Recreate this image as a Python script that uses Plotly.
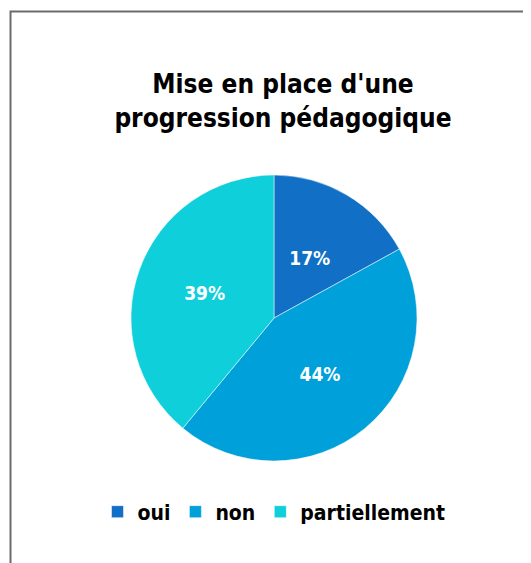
import plotly.graph_objects as go

# Données
categories = ["oui", "non", "partiellement"]
valeurs = [17, 44, 39]
couleurs = ["#1170C5", "#00A0DA", "#0ECFDA"]

titre = "Mise en place d'une<br>progression pédagogique"
police = "Liberation Sans Narrow, DejaVu Sans Condensed, Arial Narrow, sans-serif"

# la page ajoute une marge de 8 px autour de la figure
W, H = 523, 555
cx, cy, r = 266, 310, 143


def domaine(rayon):
    return {
        "x": [(cx - rayon) / W, (cx + rayon) / W],
        "y": [1 - (cy + rayon) / H, 1 - (cy - rayon) / H],
    }


figure = go.Figure()

# Secteurs + étiquettes des grands secteurs
figure.add_trace(
    go.Pie(
        labels=categories,
        values=valeurs,
        sort=False,
        direction="clockwise",
        rotation=0,
        marker={"colors": couleurs, "line": {"color": "white", "width": 0.5}},
        texttemplate=["", "%{percent:.0%}", "%{percent:.0%}"],
        textposition="inside",
        insidetextorientation="horizontal",
        textfont={"family": police, "size": 19, "color": "white", "weight": "bold"},
        hoverinfo="label+percent",
        domain=domaine(r),
    )
)

# Même camembert, plus petit et transparent : place l'étiquette du petit secteur
# à mi-rayon comme dans l'original
figure.add_trace(
    go.Pie(
        labels=categories,
        values=valeurs,
        sort=False,
        direction="clockwise",
        rotation=0,
        marker={"colors": ["rgba(0,0,0,0)"] * 3, "line": {"width": 0}},
        texttemplate=["%{percent:.0%}", "", ""],
        textposition="inside",
        insidetextorientation="horizontal",
        textfont={"family": police, "size": 19, "color": "white", "weight": "bold"},
        hoverinfo="skip",
        showlegend=False,
        domain=domaine(r * 0.74),
    )
)

# Cadre gris en haut et à gauche
figure.add_shape(
    type="rect",
    xref="paper",
    yref="paper",
    x0=2.5 / W,
    x1=1.05,
    y0=-0.05,
    y1=1 - 3.5 / H,
    line={"color": "#6b6b6b", "width": 2},
    fillcolor="rgba(0,0,0,0)",
)

figure.update_layout(
    width=W,
    height=H,
    margin={"l": 0, "r": 0, "t": 0, "b": 0},
    paper_bgcolor="white",
    plot_bgcolor="white",
    title={
        "text": titre,
        "x": 275 / W,
        "xanchor": "center",
        "y": 1 - 85 / H,
        "yanchor": "top",
        "font": {"family": police, "size": 26, "color": "black", "weight": "bold"},
    },
    legend={
        "orientation": "h",
        "x": cx / W,
        "xanchor": "center",
        "y": 1 - 504 / H,
        "yanchor": "middle",
        "font": {"family": police, "size": 21, "color": "black", "weight": "bold"},
    },
)

figure.write_html("out.html")
